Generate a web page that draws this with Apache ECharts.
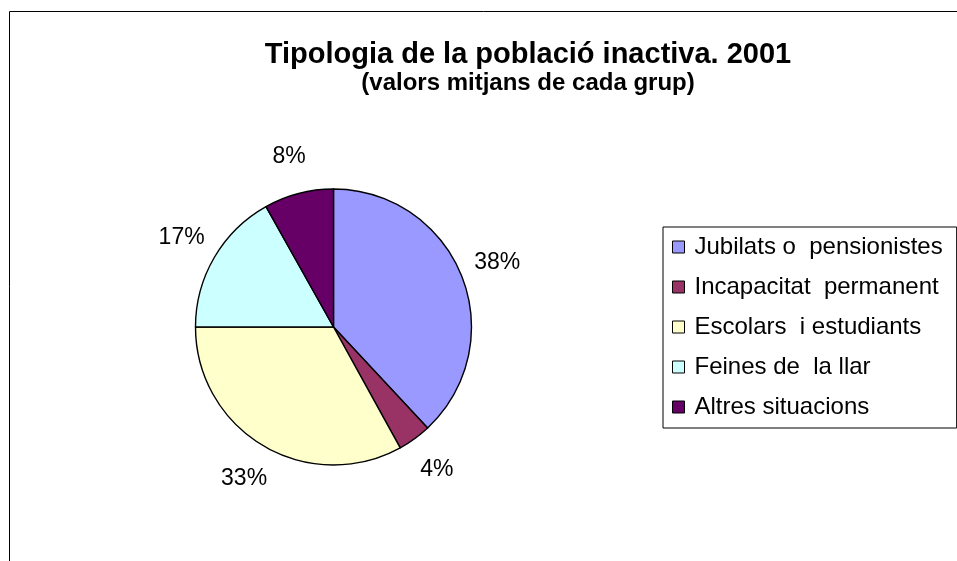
<!DOCTYPE html>
<html lang="ca">
<head>
    <meta charset="UTF-8">
    <title>Tipologia de la població inactiva. 2001</title>
</head>
<style>
    html, body{
        margin: 0;
        padding: 0;
        background-color: #fff;
    }
    #main{
        width: 957px;
        height: 561px;
    }
</style>
<body>
<div id="main"></div>
<script src="https://cdn.jsdelivr.net/npm/echarts@6/dist/echarts.min.js"></script>
<script>
    // dades (percentatges llegits del gràfic)
    var categories = ['Jubilats o  pensionistes', 'Incapacitat  permanent', 'Escolars  i estudiants', 'Feines de  la llar', 'Altres situacions'];
    var values = [37.9, 3.9, 32.9, 16.8, 8.1];
    var colors = ['#9999ff', '#993366', '#ffffcc', '#ccffff', '#660066'];

    var data = [];
    for (var i = 0; i < categories.length; i++) {
        data.push({value: values[i], name: categories[i]});
    }

    var app = echarts.init(document.getElementById('main'));
    var font = 'Liberation Sans, Arial, sans-serif';

    function pct(p) {
        return Math.round(p.percent) + '%';
    }

    var option = {
        color: colors,
        animation: false,
        title: {
            text: 'Tipologia de la població inactiva. 2001',
            subtext: '(valors mitjans de cada grup)',
            left: 523,
            textAlign: 'center',
            top: 35,
            itemGap: 2,
            textStyle: {
                fontFamily: font,
                fontSize: 29,
                fontWeight: 'bold',
                color: '#000'
            },
            subtextStyle: {
                fontFamily: font,
                fontSize: 24,
                fontWeight: 'bold',
                color: '#000'
            }
        },
        legend: {
            orient: 'vertical',
            left: 663,
            top: 227,
            padding: [8, 14, 9, 9],
            borderColor: '#000',
            borderWidth: 1,
            itemWidth: 12,
            itemHeight: 12,
            itemGap: 16,
            icon: 'rect',
            selectedMode: false,
            itemStyle: {
                borderColor: '#000',
                borderWidth: 1
            },
            textStyle: {
                fontFamily: font,
                fontSize: 24,
                color: '#000',
                padding: [0, 0, 0, 5]
            },
            data: categories
        },
        graphic: [
            {type: 'line', shape: {x1: 9.5, y1: 11.5, x2: 957, y2: 11.5}, style: {stroke: '#000', lineWidth: 1}},
            {type: 'line', shape: {x1: 9.5, y1: 11.5, x2: 9.5, y2: 561}, style: {stroke: '#000', lineWidth: 1}}
        ],
        series: [
            {
                type: 'pie',
                center: [333.5, 327],
                radius: 138,
                startAngle: 90,
                clockwise: true,
                itemStyle: {
                    borderColor: '#000',
                    borderWidth: 1.4
                },
                label: {show: false},
                labelLine: {show: false},
                emphasis: {disabled: true},
                data: data
            },
            {
                // anell invisible per col·locar les etiquetes fora del pastís
                type: 'pie',
                center: [333.5, 327],
                radius: [138, 208],
                startAngle: 90,
                clockwise: true,
                silent: true,
                itemStyle: {
                    color: 'rgba(0,0,0,0)',
                    borderWidth: 0
                },
                label: {
                    show: true,
                    position: 'inside',
                    fontFamily: font,
                    fontSize: 23,
                    color: '#000',
                    formatter: pct
                },
                labelLine: {show: false},
                emphasis: {disabled: true},
                data: data
            }
        ]
    };
    app.setOption(option);
</script>
</body>
</html>
